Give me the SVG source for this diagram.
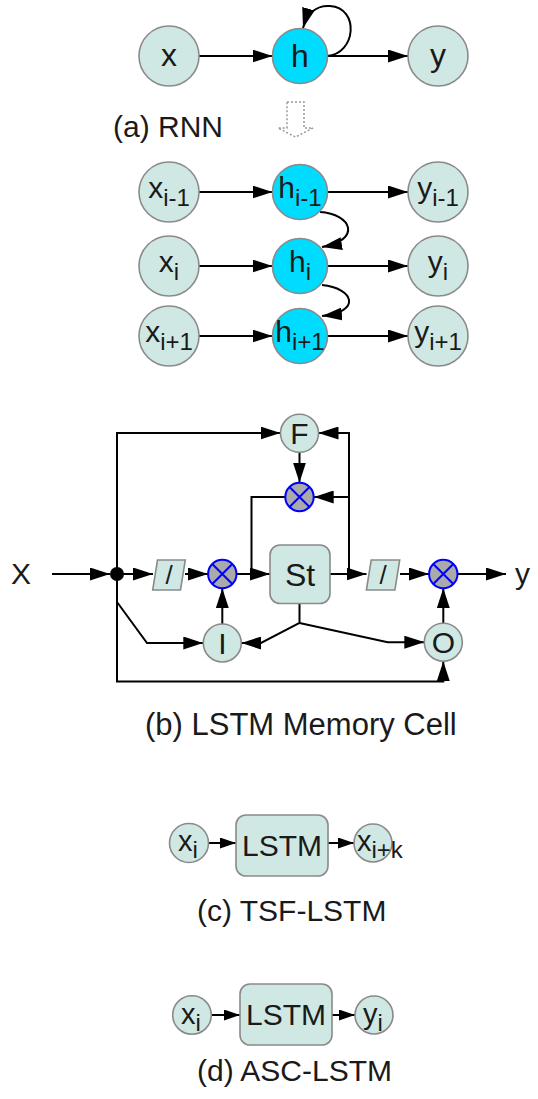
<svg xmlns="http://www.w3.org/2000/svg" width="538" height="1099" viewBox="0 0 538 1099">
<style>
  text { font-family: "Liberation Sans", Arial, sans-serif; fill: #1a1a1a; }
  .nd { fill: #d0e8e4; stroke: #8a8a8a; stroke-width: 1.6; }
  .hid { fill: #00dcff; stroke: #8a8a8a; stroke-width: 1.6; }
  .mul { fill: #aaaaaa; stroke: #0000ff; stroke-width: 2; }
  .mx { stroke: #0000ff; stroke-width: 2; fill: none; }
  .ln { stroke: #000; stroke-width: 2; fill: none; }
  .lnm { stroke: #000; stroke-width: 2; fill: none; marker-end: url(#ah); }
  .lns { stroke: #000; stroke-width: 2; fill: none; marker-end: url(#ahs); }
  .cap { font-size: 30px; }
  .t32 { font-size: 32px; text-anchor: middle; }
  .t30 { font-size: 30px; text-anchor: middle; }
  .sub { font-size: 24px; }
  .sl { font-size: 26px; text-anchor: middle; }
</style>
<defs>
  <marker id="ah" viewBox="0 0 20 13" refX="20" refY="6.5" markerWidth="20" markerHeight="13" markerUnits="userSpaceOnUse" orient="auto">
    <path d="M0,0 L20,6.5 L0,13 z" fill="#000"/>
  </marker>
  <marker id="ahs" viewBox="0 0 16 11" refX="16" refY="5.5" markerWidth="16" markerHeight="11" markerUnits="userSpaceOnUse" orient="auto">
    <path d="M0,0 L16,5.5 L0,11 z" fill="#000"/>
  </marker>
</defs>

<g id="connectors">
  <!-- (a) RNN -->
  <line class="lnm" x1="199" y1="56" x2="272.5" y2="56"/>
  <line class="lnm" x1="327.5" y1="56" x2="408" y2="56"/>
  <path class="lnm" d="M327,56 C356,54 360,8 330,6 C316,5 307,14 303,28"/>
  <!-- unrolled -->
  <line class="lnm" x1="199" y1="192" x2="272.5" y2="192"/>
  <line class="lnm" x1="327.5" y1="192" x2="408" y2="192"/>
  <line class="lnm" x1="199" y1="266" x2="272.5" y2="266"/>
  <line class="lnm" x1="327.5" y1="266" x2="408" y2="266"/>
  <line class="lnm" x1="199" y1="336" x2="272.5" y2="336"/>
  <line class="lnm" x1="327.5" y1="336" x2="408" y2="336"/>
  <path class="lnm" d="M320,212 C352,214 362,240 322,247"/>
  <path class="lnm" d="M322,285 C354,288 362,312 322,316"/>
  <!-- (b) LSTM cell -->
  <line class="lnm" x1="52" y1="574" x2="110" y2="574"/>
  <line class="lnm" x1="117" y1="574" x2="153" y2="574"/>
  <line class="lnm" x1="185" y1="574" x2="208" y2="574"/>
  <line class="lnm" x1="236.5" y1="574" x2="270" y2="574"/>
  <polyline class="ln" points="285.3,497 251.5,497 251.5,574"/>
  <line class="lnm" x1="330" y1="574" x2="366.5" y2="574"/>
  <polyline class="lnm" points="349,574 349,433 318.5,433"/>
  <line class="lnm" x1="349" y1="497" x2="313.7" y2="497"/>
  <line class="lnm" x1="400" y1="574" x2="429" y2="574"/>
  <line class="lnm" x1="457.5" y1="574" x2="506" y2="574"/>
  <polyline class="lnm" points="117,574 117,433 280.5,433"/>
  <line class="lnm" x1="299.5" y1="452.3" x2="299.5" y2="482.6"/>
  <line class="lnm" x1="222.3" y1="624" x2="222.3" y2="588.2"/>
  <line class="lnm" x1="443.3" y1="623.2" x2="443.3" y2="588.2"/>
  <polyline class="lnm" points="117,574 117,602 147,643 203.3,643"/>
  <polyline class="lnm" points="299.5,603.5 299.5,623 261,643 241.3,643"/>
  <polyline class="lnm" points="299.5,623 387.7,642.2 424.3,642.2"/>
  <polyline class="lnm" points="117,574 117,681.4 443.3,681.4 443.3,661.2"/>
  <!-- (c) -->
  <line class="lns" x1="208.5" y1="843" x2="236" y2="843"/>
  <line class="lns" x1="328" y1="843" x2="354" y2="843"/>
  <!-- (d) -->
  <line class="lns" x1="211" y1="1015" x2="240" y2="1015"/>
  <line class="lns" x1="332" y1="1015" x2="355" y2="1015"/>
</g>

<!-- (a) RNN nodes -->
<g id="node-x"><circle class="nd" cx="169" cy="56" r="30"/><text class="t32" x="169" y="66">x</text></g>
<g id="node-h"><circle class="hid" cx="300" cy="56" r="27.5"/><text class="t32" x="300" y="67">h</text></g>
<g id="node-y"><circle class="nd" cx="438" cy="56" r="30"/><text class="t32" x="438" y="66">y</text></g>
<g id="label-a"><text class="cap" x="113" y="137">(a) RNN</text></g>
<g id="unroll-arrow"><polygon points="287,102 304,102 304,128 313,128 295.5,137 278,128 287,128" fill="none" stroke="#999" stroke-width="1.5" stroke-dasharray="2,2"/></g>

<!-- unrolled nodes -->
<g id="node-x-im1"><circle class="nd" cx="169" cy="192" r="30"/><text class="t30" x="169" y="198">x<tspan class="sub" dy="8">i-1</tspan></text></g>
<g id="node-h-im1"><circle class="hid" cx="300" cy="192" r="27.5"/><text class="t30" x="300" y="198">h<tspan class="sub" dy="8">i-1</tspan></text></g>
<g id="node-y-im1"><circle class="nd" cx="438" cy="192" r="30"/><text class="t30" x="438" y="198">y<tspan class="sub" dy="8">i-1</tspan></text></g>
<g id="node-x-i"><circle class="nd" cx="169" cy="266" r="30"/><text class="t30" x="169" y="272">x<tspan class="sub" dy="8">i</tspan></text></g>
<g id="node-h-i"><circle class="hid" cx="300" cy="266" r="27.5"/><text class="t30" x="300" y="272">h<tspan class="sub" dy="8">i</tspan></text></g>
<g id="node-y-i"><circle class="nd" cx="438" cy="266" r="30"/><text class="t30" x="438" y="272">y<tspan class="sub" dy="8">i</tspan></text></g>
<g id="node-x-ip1"><circle class="nd" cx="169" cy="336" r="30"/><text class="t30" x="169" y="342">x<tspan class="sub" dy="8">i+1</tspan></text></g>
<g id="node-h-ip1"><circle class="hid" cx="300" cy="336" r="27.5"/><text class="t30" x="300" y="342">h<tspan class="sub" dy="8">i+1</tspan></text></g>
<g id="node-y-ip1"><circle class="nd" cx="438" cy="336" r="30"/><text class="t30" x="438" y="342">y<tspan class="sub" dy="8">i+1</tspan></text></g>

<!-- (b) LSTM memory cell -->
<g id="label-X"><text class="cap" x="11" y="584">X</text></g>
<g id="label-y"><text class="cap" x="515" y="584">y</text></g>
<g id="node-dot"><circle cx="117" cy="574" r="7" fill="#000"/></g>
<g id="node-F"><circle class="nd" cx="299.5" cy="433.3" r="19"/><text class="t30" x="299.5" y="444">F</text></g>
<g id="node-mul-f"><circle class="mul" cx="299.5" cy="497" r="14.2"/><path class="mx" d="M289.5,487 L309.5,507 M309.5,487 L289.5,507"/></g>
<g id="node-sq1"><polygon class="nd" points="157.5,560 185.3,560 180.5,590 152.7,590"/><text class="sl" x="169" y="584">/</text></g>
<g id="node-mul-i"><circle class="mul" cx="222.3" cy="574" r="14.2"/><path class="mx" d="M212.3,564 L232.3,584 M232.3,564 L212.3,584"/></g>
<g id="node-St"><rect class="nd" x="270" y="545" width="60" height="58.5" rx="10"/><text class="t32" x="300" y="586">St</text></g>
<g id="node-sq2"><polygon class="nd" points="371.2,560 399.7,560 394.9,590 366.4,590"/><text class="sl" x="383" y="584">/</text></g>
<g id="node-mul-o"><circle class="mul" cx="443.3" cy="574" r="14.2"/><path class="mx" d="M433.3,564 L453.3,584 M453.3,564 L433.3,584"/></g>
<g id="node-I"><circle class="nd" cx="222.3" cy="643" r="19"/><text class="t30" x="222.3" y="654">I</text></g>
<g id="node-O"><circle class="nd" cx="443.3" cy="642.2" r="19"/><text class="t30" x="443.3" y="653">O</text></g>
<g id="label-b"><text class="cap" x="145" y="735" style="font-size:31px">(b) LSTM Memory Cell</text></g>

<!-- (c) TSF-LSTM -->
<g id="node-c-xi"><circle class="nd" cx="189" cy="843" r="19.5"/><text x="178" y="851" style="font-size:29px">x<tspan class="sub" dy="7">i</tspan></text></g>
<g id="node-c-lstm"><rect class="nd" x="236" y="815" width="92" height="61" rx="10"/><text class="t30" x="282" y="856">LSTM</text></g>
<g id="node-c-xik"><circle class="nd" cx="373" cy="843" r="19"/><text x="357" y="851" style="font-size:29px">x<tspan class="sub" dy="7">i+k</tspan></text></g>
<g id="label-c"><text class="cap" x="197" y="921">(c) TSF-LSTM</text></g>

<!-- (d) ASC-LSTM -->
<g id="node-d-xi"><circle class="nd" cx="192" cy="1015" r="19.3"/><text x="181" y="1024" style="font-size:29px">x<tspan class="sub" dy="7">i</tspan></text></g>
<g id="node-d-lstm"><rect class="nd" x="240" y="984" width="92" height="61" rx="10"/><text class="t30" x="286" y="1025">LSTM</text></g>
<g id="node-d-yi"><circle class="nd" cx="374" cy="1015" r="19"/><text x="363" y="1024" style="font-size:29px">y<tspan class="sub" dy="7">i</tspan></text></g>
<g id="label-d"><text class="cap" x="197" y="1081">(d) ASC-LSTM</text></g>
</svg>
